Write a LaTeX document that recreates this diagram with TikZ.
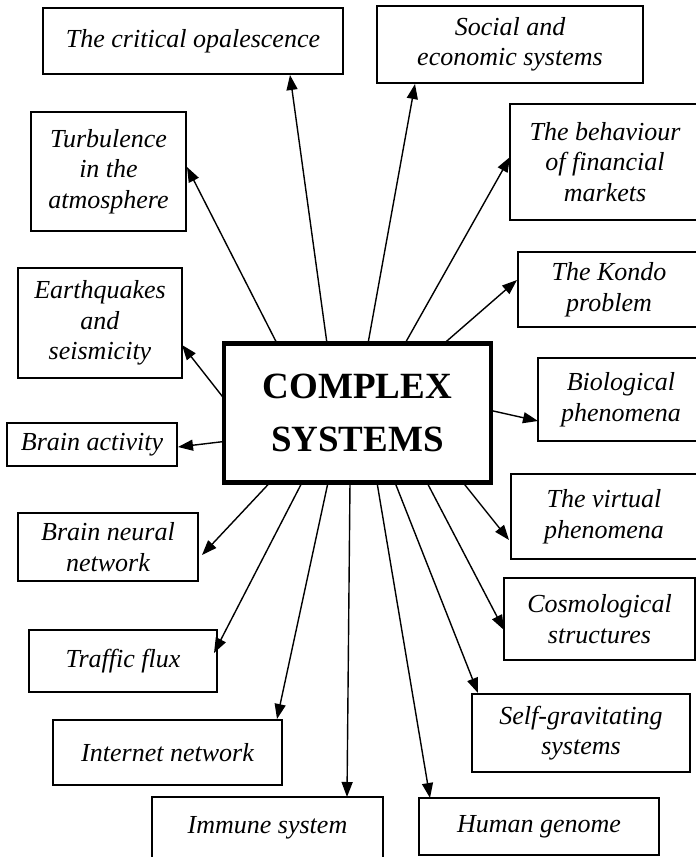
\documentclass[tikz,border=0pt]{standalone}
\usepackage{fontspec}
\setmainfont{Liberation Serif}
\usetikzlibrary{arrows.meta}
\begin{document}
\begin{tikzpicture}[x=1pt,y=-1pt,
  topic/.style={draw, line width=1.3pt, inner sep=0pt, outer sep=0pt,
    align=center, font=\fontsize{26}{30.5}\selectfont\itshape},
  hub/.style={draw, line width=4.3pt, inner sep=0pt, outer sep=0pt,
    align=center, font=\fontsize{37}{53}\selectfont\bfseries},
  link/.style={line width=1.4pt, -{Triangle[length=15pt,width=11pt]}}]
\clip (0,0) rectangle (696,857);
\fill[white] (0,0) rectangle (696,857);

% central concept
\node[hub, minimum width=267pt, minimum height=139pt] (cs) at (357.5,413) {COMPLEX\\SYSTEMS};

% surrounding fields
\node[topic, minimum width=300pt, minimum height=66pt]  (op)   at (193,41)      {The critical opalescence};
\node[topic, minimum width=266pt, minimum height=77pt]  (soc)  at (510,44.5)    {Social and\\economic systems};
\node[topic, minimum width=190pt, minimum height=116pt] (beh)  at (605,162)     {The behaviour\\of financial\\markets};
\node[topic, minimum width=155pt, minimum height=119pt] (tur)  at (108.5,171.5) {Turbulence\\in the\\atmosphere};
\node[topic, minimum width=164pt, minimum height=110pt] (eq)   at (100,323)     {Earthquakes\\and\\seismicity};
\node[topic, minimum width=170pt, minimum height=43pt]  (ba)   at (92,444.5)    {Brain activity};
\node[topic, minimum width=182pt, minimum height=75pt]  (kon)  at (609,289.5)   {The Kondo\\problem};
\node[topic, minimum width=166pt, minimum height=83pt]  (bio)  at (621,399.5)   {Biological\\phenomena};
\node[topic, minimum width=186pt, minimum height=85pt]  (vir)  at (604,516.5)   {The virtual\\phenomena};
\node[topic, minimum width=191pt, minimum height=82pt]  (cos)  at (599.5,619)   {Cosmological\\structures};
\node[topic, minimum width=218pt, minimum height=78pt]  (sg)   at (581,733)     {Self-gravitating\\systems};
\node[topic, minimum width=240pt, minimum height=57pt]  (hg)   at (539,826.5)   {Human genome};
\node[topic, minimum width=180pt, minimum height=68pt]  (bn)   at (108,547)     {Brain neural\\network};
\node[topic, minimum width=188pt, minimum height=62pt]  (tf)   at (123,661)     {Traffic flux};
\node[topic, minimum width=229pt, minimum height=65pt]  (inet) at (167.5,752.5) {Internet network};
\node[topic, minimum width=231pt, minimum height=62pt]  (imm)  at (267.5,828)   {Immune system};

% connectors from the central concept
\draw[link] ([shift={(103,0)}]cs.north west) -- ([shift={(247,1)}]op.south west);
\draw[link] ([shift={(53,0)}]cs.north west)  -- ([shift={(1,55)}]tur.north east);
\draw[link] ([shift={(144,0)}]cs.north west) -- ([shift={(38,1)}]soc.south west);
\draw[link] ([shift={(181,0)}]cs.north west) -- ([shift={(0,53)}]beh.north west);
\draw[link] ([shift={(220,0)}]cs.north west) -- ([shift={(-1,28)}]kon.north west);
\draw[link] ([shift={(0,55)}]cs.north west)  -- ([shift={(0,77)}]eq.north east);
\draw[link] ([shift={(0,98)}]cs.north west)  -- ([shift={(1,24)}]ba.north east);
\draw[link] ([shift={(0,67)}]cs.north east)  -- ([shift={(0,63)}]bio.north west);
\draw[link] ([shift={(239,0)}]cs.south west) -- ([shift={(-2,66)}]vir.north west);
\draw[link] ([shift={(203,0)}]cs.south west) -- ([shift={(0,52)}]cos.north west);
\draw[link] ([shift={(171,0)}]cs.south west) -- ([shift={(6,-1)}]sg.north west);
\draw[link] ([shift={(153,0)}]cs.south west) -- ([shift={(11,0)}]hg.north west);
\draw[link] ([shift={(126,0)}]cs.south west) -- ([shift={(195,0)}]imm.north west);
\draw[link] ([shift={(104,0)}]cs.south west) -- ([shift={(224,-1)}]inet.north west);
\draw[link] ([shift={(78,0)}]cs.south west)  -- ([shift={(-3,23)}]tf.north east);
\draw[link] ([shift={(46,0)}]cs.south west)  -- ([shift={(4,42)}]bn.north east);
\end{tikzpicture}
\end{document}
